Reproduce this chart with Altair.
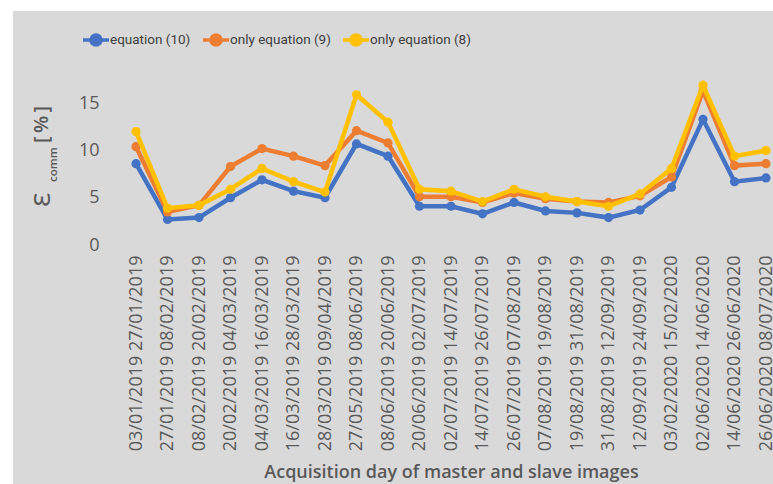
import altair as alt
import pandas as pd

# Acquisition pairs (master / slave dates)
pairs = [
    "03/01/2019 27/01/2019", "27/01/2019 08/02/2019", "08/02/2019 20/02/2019",
    "20/02/2019 04/03/2019", "04/03/2019 16/03/2019", "16/03/2019 28/03/2019",
    "28/03/2019 09/04/2019", "27/05/2019 08/06/2019", "08/06/2019 20/06/2019",
    "20/06/2019 02/07/2019", "02/07/2019 14/07/2019", "14/07/2019 26/07/2019",
    "26/07/2019 07/08/2019", "07/08/2019 19/08/2019", "19/08/2019 31/08/2019",
    "31/08/2019 12/09/2019", "12/09/2019 24/09/2019", "03/02/2020 15/02/2020",
    "02/06/2020 14/06/2020", "14/06/2020 26/06/2020", "26/06/2020 08/07/2020",
]

# Commission error in percent for each variant
eq10 = [8.6, 2.7, 2.9, 5.0, 6.9, 5.7, 5.0, 10.7, 9.4, 4.1, 4.1,
        3.3, 4.5, 3.6, 3.4, 2.9, 3.7, 6.1, 13.3, 6.7, 7.1]
only_eq9 = [10.4, 3.5, 4.2, 8.3, 10.2, 9.4, 8.4, 12.1, 10.8, 5.1, 5.1,
            4.5, 5.5, 4.9, 4.6, 4.5, 5.2, 7.2, 16.3, 8.4, 8.6]
only_eq8 = [12.0, 3.9, 4.2, 5.9, 8.1, 6.7, 5.6, 15.9, 13.0, 5.9, 5.7,
            4.6, 5.9, 5.1, 4.6, 4.1, 5.4, 8.1, 16.9, 9.4, 10.0]

series_names = ["equation (10)", "only equation (9)", "only equation (8)"]
series_colors = ["#4472C4", "#ED7D31", "#FFC000"]
y_ticks = [0, 5, 10, 15]

rows = []
for name, vals in zip(series_names, [eq10, only_eq9, only_eq8]):
    for p, v in zip(pairs, vals):
        rows.append({"pair": p, "value": v, "series": name})
df = pd.DataFrame(rows)

W, H = 630, 189
PAD_L, PAD_T = 136, 56
GRAY = "#d9d9d9"
TXT = "#595959"

color = alt.Color(
    "series:N",
    scale=alt.Scale(domain=series_names, range=series_colors),
    legend=alt.Legend(
        title=None,
        orient="none",
        direction="horizontal",
        legendX=-47,
        legendY=-23,
        symbolType="M-2.6,0H2.6M1,0A1,1 0 1,1 -1,0A1,1 0 1,1 1,0Z",
        symbolSize=100,
        symbolStrokeWidth=3.5,
        labelFont="Roboto",
        labelFontSize=13.5,
        labelColor="#404040",
        labelOffset=7,
        columnPadding=5,
        zindex=1,
    ),
)

x = alt.X(
    "pair:N",
    sort=pairs,
    scale=alt.Scale(type="point", padding=0),
    axis=alt.Axis(
        title="Acquisition day of master and slave images",
        labelAngle=270,
        labelFont="Open Sans",
        labelFontSize=18,
        labelColor=TXT,
        labelPadding=10,
        labelLimit=0,
        ticks=False,
        domain=False,
        titleFont="Open Sans",
        titleFontSize=18,
        titleFontWeight=600,
        titleColor=TXT,
        titleY=227,
        titleBaseline="middle",
        zindex=1,
    ),
)

y = alt.Y(
    "value:Q",
    scale=alt.Scale(domain=[0, 20], nice=False),
    axis=alt.Axis(
        title=None,
        values=y_ticks,
        grid=False,
        ticks=False,
        domain=False,
        labelFont="Open Sans",
        labelFontSize=18,
        labelColor=TXT,
        labelPadding=37,
        zindex=1,
    ),
)

# gray panel behind everything
panel = alt.Chart(pd.DataFrame({"k": [0]})).mark_rect(color=GRAY).encode(
    x=alt.value(13 - PAD_L), x2=alt.value(773 - PAD_L),
    y=alt.value(11 - PAD_T), y2=alt.value(484 - PAD_T),
)

layers = [panel]
for name in series_names:
    base = alt.Chart(df).transform_filter(alt.datum.series == name)
    layers.append(base.mark_line(strokeWidth=4.5).encode(x=x, y=y, color=color))
    layers.append(base.mark_point(filled=True, size=85, opacity=1).encode(x=x, y=y, color=color))

# y-axis title: epsilon with subscript "comm" and unit
one = pd.DataFrame({"k": [0]})
eps = alt.Chart(one).mark_text(
    text="ε", angle=270, align="left", baseline="alphabetic",
    font="Open Sans", fontSize=30, color=TXT,
).encode(x=alt.value(-86), y=alt.value(151))
sub = alt.Chart(one).mark_text(
    text="comm", angle=270, align="left", baseline="alphabetic",
    font="Open Sans", fontSize=11.5, fontWeight=600, color=TXT,
).encode(x=alt.value(-79), y=alt.value(126))
unit = alt.Chart(one).mark_text(
    text="[\u2009%\u2009]", angle=270, align="left", baseline="alphabetic",
    font="Open Sans", fontSize=20, fontWeight=600, color=TXT,
).encode(x=alt.value(-88), y=alt.value(87))
layers += [eps, sub, unit]

chart = alt.layer(*layers).properties(
    width=W, height=H,
    autosize=alt.AutoSizeParams(type="none"),
    padding={"left": PAD_L, "top": PAD_T, "right": 773 - PAD_L - W, "bottom": 484 - PAD_T - H},
).configure(background="white").configure_view(stroke=None)

chart.save("out.html", embed_options={"renderer": "svg", "actions": False})
